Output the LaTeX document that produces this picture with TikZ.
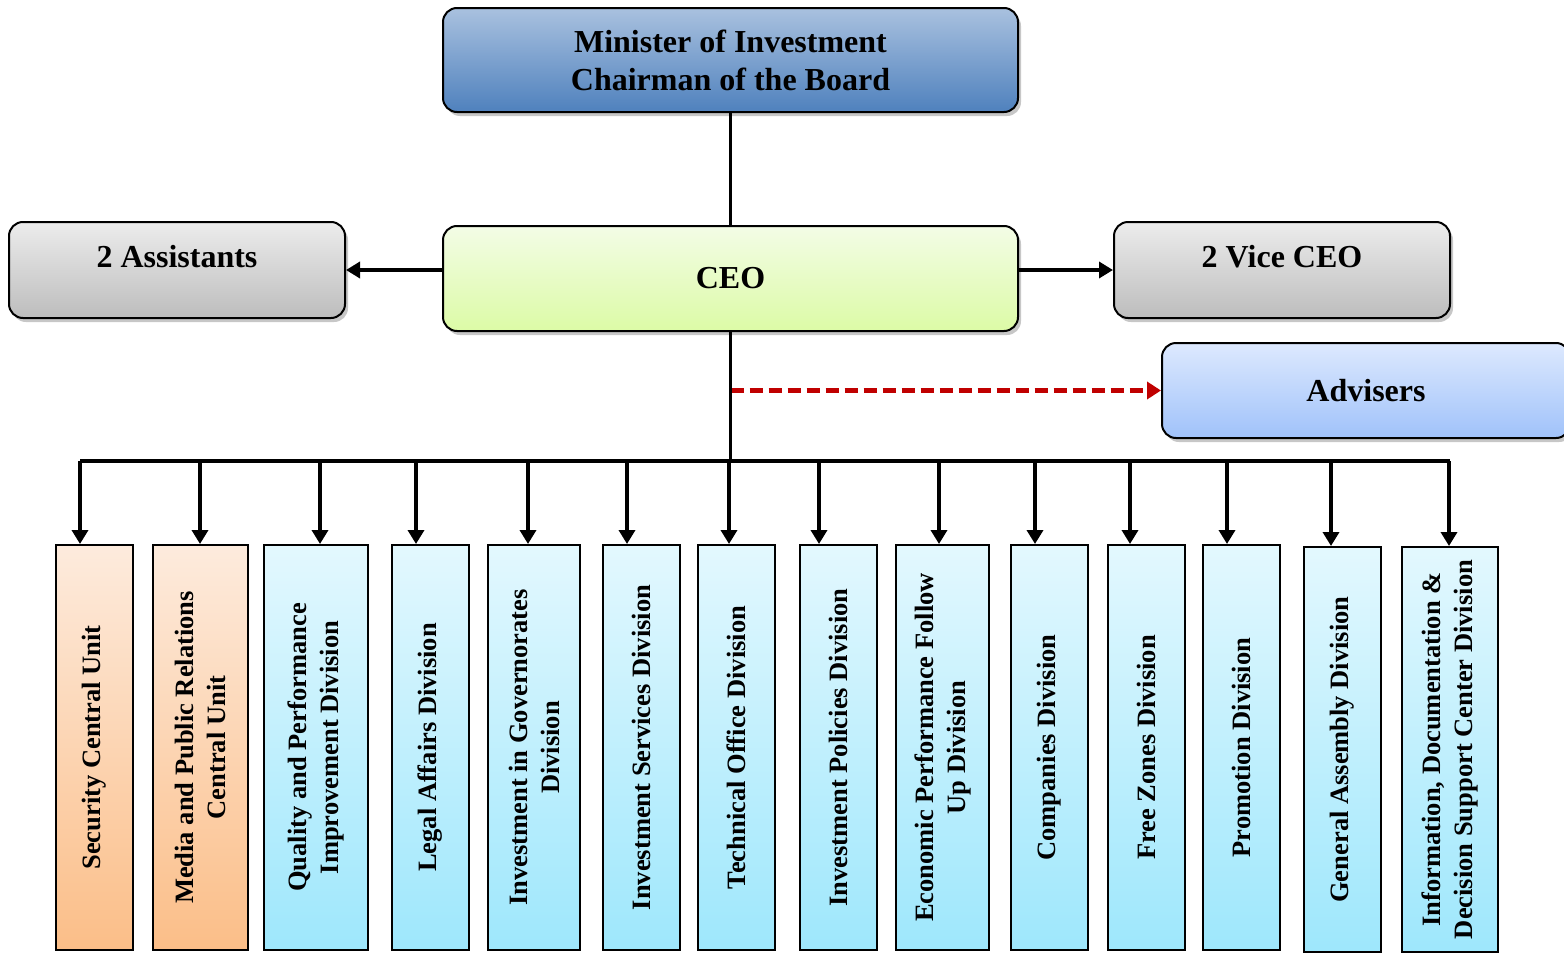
\documentclass[tikz,border=0pt]{standalone}
\usepackage{fontspec}
\setmainfont{Liberation Serif}
\usepackage{tikz}
\usetikzlibrary{arrows.meta}
\usetikzlibrary{shadows}

\definecolor{minTop}{HTML}{A9C1DF}
\definecolor{minBot}{HTML}{4F81BD}
\definecolor{ceoTop}{HTML}{F3FCE6}
\definecolor{ceoBot}{HTML}{DCFBA6}
\definecolor{grayTop}{HTML}{ECECEC}
\definecolor{grayBot}{HTML}{BDBDBD}
\definecolor{advTop}{HTML}{DDE9FE}
\definecolor{advBot}{HTML}{A0C2FA}
\definecolor{orTop}{HTML}{FDEBDD}
\definecolor{orBot}{HTML}{FBBE88}
\definecolor{cyTop}{HTML}{E3F8FE}
\definecolor{cyBot}{HTML}{9EE7FC}
\definecolor{dashRed}{HTML}{C00000}

\tikzset{
  headbox/.style={shape=rectangle, rounded corners=14pt, draw=black, line width=2pt, align=center,
    font=\fontsize{32}{38}\selectfont\bfseries,
    drop shadow={shadow xshift=3pt, shadow yshift=-4pt, fill=black!22, opacity=1}},
  sidebox/.style={headbox, top color=grayTop, bottom color=grayBot, minimum width=336pt, minimum height=96pt,
    text height=22pt, text depth=27pt},
  unitbox/.style={shape=rectangle, rotate=90, draw=black, line width=2pt, align=center,
    font=\fontsize{26.5}{32}\selectfont\bfseries, minimum width=405pt, inner sep=2pt},
  orangebox/.style={unitbox, top color=orTop, bottom color=orBot},
  cyanbox/.style={unitbox, top color=cyTop, bottom color=cyBot},
  link/.style={draw=black, line width=3.8pt},
  drop/.style={link, -{Triangle[length=14pt,width=16pt]}},
}

\begin{document}
\begin{tikzpicture}
\useasboundingbox (0pt,0pt) rectangle (1564pt,-953pt);
% top level
\node[headbox, top color=minTop, bottom color=minBot, minimum width=575pt, minimum height=104pt] (min) at (730.5pt,-60pt) {Minister of Investment\\Chairman of the Board};
\node[headbox, top color=ceoTop, bottom color=ceoBot, minimum width=575pt, minimum height=105pt] (ceo) at (730.5pt,-278.5pt) {CEO};
\node[sidebox] (asst) at (177pt,-270pt) {2 Assistants};
\node[sidebox] (vice) at (1282pt,-270pt) {2 Vice CEO};
\node[headbox, top color=advTop, bottom color=advBot, minimum width=408pt, minimum height=95pt] (adv) at (1366pt,-390.5pt) {Advisers};

\draw[link] (min) -- (ceo);
\draw[link, -{Triangle[length=14pt,width=16pt]}] (ceo.west |- asst.east) -- (asst.east);
\draw[link, -{Triangle[length=14pt,width=16pt]}] (ceo.east |- vice.west) -- (vice.west);
\draw[line width=5pt, draw=dashRed, dash pattern=on 13pt off 6pt, -{Triangle[length=14pt,width=17pt]}] (ceo.south |- adv.west) -- (adv.west);

% divisions
\node[orangebox, minimum height=77pt] (sec) at (94.5pt,-747.5pt) {Security Central Unit};
\node[orangebox, minimum height=95pt] (med) at (200.5pt,-747.5pt) {Media and Public Relations\\Central Unit};
\node[cyanbox, minimum height=104pt] (qua) at (316pt,-747.5pt) {Quality and Performance\\Improvement Division};
\node[cyanbox, minimum height=77pt] (leg) at (430.5pt,-747.5pt) {Legal Affairs Division};
\node[cyanbox, minimum height=92pt] (gov) at (534pt,-747.5pt) {Investment in Governorates\\Division};
\node[cyanbox, minimum height=77pt] (ser) at (641.5pt,-747.5pt) {Investment Services Division};
\node[cyanbox, minimum height=77pt] (tec) at (736.5pt,-747.5pt) {Technical Office Division};
\node[cyanbox, minimum height=77pt] (pol) at (838.5pt,-747.5pt) {Investment Policies Division};
\node[cyanbox, minimum height=93pt] (eco) at (942.5pt,-747.5pt) {Economic Performance Follow\\Up Division};
\node[cyanbox, minimum height=77pt] (com) at (1049.5pt,-747.5pt) {Companies Division};
\node[cyanbox, minimum height=77pt] (fre) at (1146.5pt,-747.5pt) {Free Zones Division};
\node[cyanbox, minimum height=77pt] (pro) at (1241.5pt,-747.5pt) {Promotion Division};
\node[cyanbox, minimum height=77pt] (gen) at (1342.5pt,-749.5pt) {General Assembly Division};
\node[cyanbox, minimum height=96pt] (inf) at (1450pt,-749.5pt) {Information, Documentation \&\\Decision Support Center Division};

% bus
\coordinate (busL) at (80pt,-461pt);
\coordinate (busR) at (1450pt,-461pt);
\draw[link] (ceo.south) -- (ceo.south |- busL);
\draw[link] (busL) -- (busR);
\foreach \n/\x in {sec/80,med/200,qua/320,leg/416,gov/528,ser/627,tec/729,pol/819,eco/939,com/1035,fre/1130,pro/1227,gen/1331,inf/1449}
  {\coordinate (d\n) at (\x pt,-461pt);
   \draw[drop] (d\n) -- (d\n |- \n.east);}
\end{tikzpicture}
\end{document}
